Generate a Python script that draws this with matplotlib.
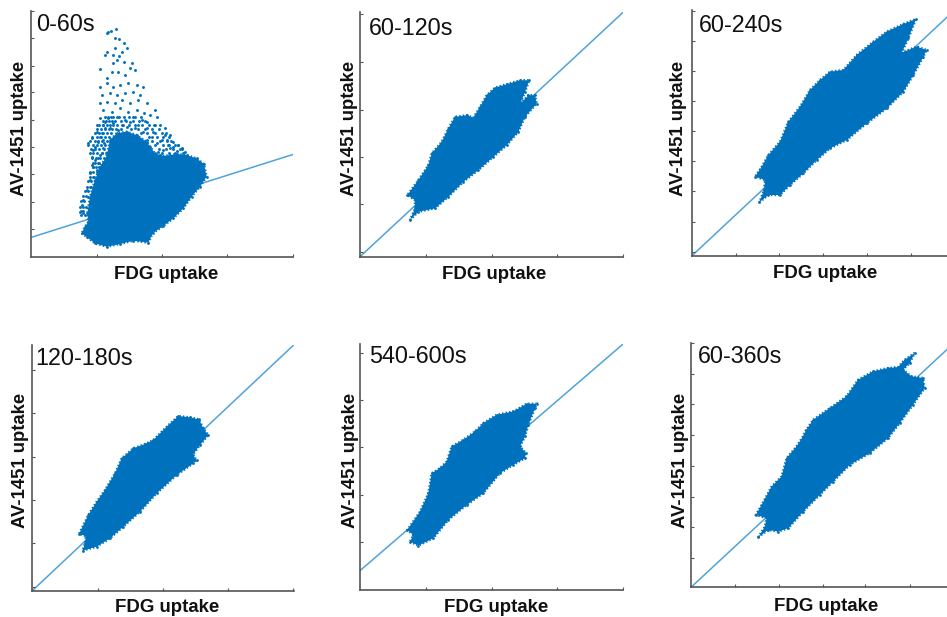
import matplotlib
matplotlib.use('Agg')
import matplotlib.pyplot as plt

plt.rcParams['font.family'] = ['Liberation Sans', 'DejaVu Sans']

BLUE = '#0072BD'
LINE_BLUE = '#4FA3DA'
AXIS_GREY = '#555555'

# axes carry no numbers, so all values are in arbitrary units
# cloud outlines, one x and one y list per frame
x_0_60 = [151, 168, 191, 226, 266, 306, 351, 364, 396, 426, 456, 481, 506, 526, 518, 496, 466, 436, 396, 371, 346, 316, 286, 256, 236, 226, 206, 191, 176, 168, 171, 161]
y_0_60 = [70, 58, 40, 30, 38, 48, 42, 70, 92, 115, 145, 180, 210, 240, 278, 295, 305, 308, 302, 310, 345, 365, 375, 370, 350, 300, 270, 230, 180, 130, 105, 90]

x_60_120 = [150, 175, 225, 265, 310, 355, 400, 440, 475, 495, 530, 525, 505, 480, 495, 508, 480, 440, 405, 380, 360, 340, 320, 285, 265, 245, 215, 205, 175, 142, 165, 165]
y_60_120 = [110, 135, 145, 180, 225, 260, 300, 335, 375, 420, 460, 485, 485, 458, 495, 530, 530, 518, 508, 485, 450, 418, 425, 420, 385, 345, 310, 275, 230, 185, 170, 145]

x_60_240 = [203, 230, 265, 295, 335, 375, 415, 465, 525, 585, 635, 665, 695, 705, 675, 630, 650, 673, 635, 585, 545, 495, 455, 415, 385, 355, 325, 290, 265, 230, 210, 190, 220, 217]
y_60_240 = [161, 183, 183, 213, 248, 288, 323, 348, 398, 443, 493, 543, 598, 618, 628, 610, 653, 711, 696, 673, 643, 603, 558, 553, 528, 498, 448, 403, 343, 303, 268, 238, 228, 198]

x_120_180 = [151, 193, 233, 273, 323, 373, 433, 483, 493, 481, 503, 528, 513, 500, 473, 438, 403, 363, 338, 303, 268, 248, 218, 193, 168, 140, 161, 158]
y_120_180 = [120, 132, 157, 192, 237, 292, 347, 382, 392, 407, 437, 467, 487, 514, 520, 524, 492, 452, 440, 427, 397, 352, 302, 267, 227, 170, 164, 142]

x_540_600 = [150, 175, 220, 265, 320, 370, 420, 460, 495, 498, 480, 495, 505, 525, 530, 500, 460, 410, 370, 345, 310, 275, 260, 240, 215, 205, 180, 142, 160]
y_540_600 = [145, 133, 155, 210, 255, 290, 350, 375, 395, 410, 430, 460, 495, 545, 558, 558, 535, 525, 500, 475, 450, 430, 385, 365, 350, 290, 235, 180, 165]

x_60_360 = [202, 232, 262, 292, 337, 387, 427, 477, 537, 592, 627, 667, 702, 697, 662, 637, 657, 672, 642, 622, 592, 547, 502, 467, 417, 367, 345, 335, 317, 287, 272, 242, 212, 195, 227, 222]
y_60_360 = [150, 172, 167, 177, 227, 277, 317, 367, 402, 447, 492, 547, 597, 627, 632, 652, 672, 702, 682, 660, 657, 647, 622, 572, 537, 502, 470, 450, 422, 387, 332, 302, 247, 217, 207, 182]

# loose points of the first frame: the spike, its left flank and its right flank
spike_x = [228, 239, 253, 231, 251, 264, 278, 286, 271, 251, 226, 221, 246, 264, 244, 258, 278, 301, 296, 311, 206, 241, 261, 281, 226, 226, 206, 246, 266, 291, 316, 336, 211, 236, 256, 281, 304, 326, 206, 226, 251, 271, 296, 321, 346, 216, 241, 266, 291, 316, 338, 356, 371, 376, 206, 231, 256, 281, 306, 331, 216, 221, 246, 271, 296, 321, 346, 236, 261, 286, 311]
spike_y = [670, 678, 682, 674, 655, 652, 642, 627, 615, 625, 615, 605, 605, 602, 580, 590, 585, 580, 565, 560, 562, 555, 555, 545, 535, 520, 508, 508, 515, 520, 515, 508, 485, 490, 485, 490, 495, 485, 460, 465, 460, 470, 460, 470, 460, 440, 435, 445, 435, 440, 430, 425, 440, 420, 415, 415, 420, 410, 418, 410, 395, 405, 400, 395, 405, 395, 405, 385, 380, 390, 385]
flank_x = [171, 181, 191, 201, 211, 196, 221, 206, 181, 191, 216, 201, 181, 166, 171, 156, 151, 146, 156, 164, 178, 188, 196, 176, 186, 206, 216, 196, 211, 186, 201, 176, 218, 208, 346, 366, 386, 401, 416, 406, 391, 376, 361, 426, 441, 451, 416, 396, 381, 356, 336, 401, 426, 371, 346, 411, 436, 461, 386]
flank_y = [340, 355, 330, 345, 370, 395, 385, 305, 300, 290, 325, 280, 275, 200, 180, 170, 155, 135, 130, 150, 210, 240, 260, 250, 320, 360, 350, 375, 310, 270, 295, 230, 340, 255, 385, 375, 395, 385, 365, 350, 350, 340, 360, 330, 335, 325, 325, 320, 315, 330, 375, 365, 345, 395, 350, 335, 318, 315, 305]

# denser shoulder points of the first frame, row by row
row_y = [420, 408, 396, 384, 372, 360, 348, 336, 324, 312, 296, 282, 268, 254, 240, 226, 210, 196, 182, 168, 150, 138, 124]
row_x = [
    [222, 230, 238, 246, 262, 278, 294, 312, 330],
    [214, 224, 232, 242, 252, 268, 284, 304, 322, 342],
    [204, 216, 226, 236, 246, 258, 276, 292, 310, 332, 352, 368],
    [198, 210, 222, 232, 242, 254, 270, 300, 320, 340, 362, 384],
    [190, 204, 214, 226, 238, 328, 346, 372, 392, 404],
    [182, 196, 208, 220, 232, 352, 378, 396, 414],
    [176, 190, 200, 212, 226, 362, 386, 408, 420],
    [170, 184, 196, 208, 222, 372, 396, 414, 430, 440],
    [178, 192, 204, 218, 384, 404, 424, 446, 452],
    [176, 186, 198, 212, 224, 392, 412, 432, 456],
    [182, 194, 206, 218],
    [184, 192, 202, 214],
    [184, 194, 204],
    [176, 186, 198],
    [176, 186],
    [170, 180],
    [168, 176],
    [160, 170],
    [154, 164],
    [148, 158],
    [146, 154],
    [148, 156],
    [150, 160],
]

# fitted lines, start and end
line_0_60 = [(0, 786), (58, 307)]
line_60_120 = [(0, 788), (0, 733)]
line_60_240 = [(0, 789), (0, 738)]
line_120_180 = [(0, 783), (0, 736)]
line_540_600 = [(0, 788), (58, 736)]
line_60_360 = [(0, 790), (0, 732)]


def panel(rect, limits, xticks, yticks, name, outline, line, text_pos, xlab_pos, ylab_pos):
    # rect is left, top, width, height in pixels of the output image
    left, top, w, h = rect
    ax = fig.add_axes([left / 947, 1 - (top + h) / 617, w / 947, h / 617])
    ax.set_xlim(0, limits[0])
    ax.set_ylim(0, limits[1])
    ax.plot(line[0], line[1], color=LINE_BLUE, lw=1.1, zorder=1)
    ax.fill(outline[0], outline[1], color=BLUE, lw=0, zorder=2)
    # rough dotted rim, the cloud is made of single points
    ax.fill(outline[0], outline[1], fill=False, ec=BLUE, lw=1.7, ls=(0, (0.6, 0.9)), zorder=2)
    ax.scatter(outline[0], outline[1], s=4, color=BLUE, lw=0, zorder=2)
    ax.spines[['top', 'right']].set_visible(False)
    ax.spines[['left', 'bottom']].set_color(AXIS_GREY)
    ax.spines[['left', 'bottom']].set_linewidth(1.2)
    ax.set_xticks(xticks)
    ax.set_yticks(yticks)
    ax.tick_params(direction='in', length=2.2, width=0.8, color=AXIS_GREY,
                   labelbottom=False, labelleft=False)
    ax.set_xlabel('FDG uptake', fontsize=13.4, fontweight='bold', color='#111111')
    ax.set_ylabel('AV-1451 uptake', fontsize=13.3, fontweight='bold', color='#111111')
    ax.xaxis.set_label_coords(xlab_pos[0], xlab_pos[1], transform=ax.transData)
    ax.yaxis.set_label_coords(ylab_pos[0], ylab_pos[1], transform=ax.transData)
    ax.text(text_pos[0], text_pos[1], name, fontsize=16.8, color='#111111', va='center', ha='left')
    return ax


fig = plt.figure(figsize=(9.47, 6.17), dpi=100)

ax1 = panel((31.3, 11, 262, 245.7), (786, 737), [197, 393, 588, 786],
            [83, 165, 247, 329, 411, 493, 573, 655, 737], '0-60s',
            (x_0_60, y_0_60), line_0_60, (14, 696), (404, -28), (-9, 384))
ax1.scatter(spike_x, spike_y, s=4.5, color=BLUE, lw=0, zorder=2)
ax1.scatter(flank_x, flank_y, s=4.5, color=BLUE, lw=0, zorder=2)
for y, xs in zip(row_y, row_x):
    ax1.scatter(xs, [y] * len(xs), s=4.5, color=BLUE, lw=0, zorder=2)

panel((360, 12, 262.7, 244.7), (788, 735), [198, 396, 591, 788],
      [15, 157, 300, 442, 584, 730], '60-120s',
      (x_60_120, y_60_120), line_60_120, (28, 684), (403, -28), (-7, 384))
panel((691.7, 10, 263, 246), (789, 738), [132, 263, 395, 525, 657, 789],
      [13, 103, 195, 284, 375, 464, 555, 644, 736], '60-240s',
      (x_60_240, y_60_240), line_60_240, (23, 691), (400, -28), (-14, 383))
panel((32.3, 345, 261.7, 245.7), (785, 737), [196, 391, 586, 783],
      [12, 142, 272, 402, 532, 662], '120-180s',
      (x_120_180, y_120_180), line_120_180, (8, 697), (403, -25), (-9, 391))
panel((360, 344, 262.7, 246), (788, 737), [198, 396, 591, 788],
      [144, 286, 427, 568, 710], '540-600s',
      (x_540_600, y_540_600), line_540_600, (26, 700), (407, -27), (-4, 387))
panel((691, 343, 263, 244.3), (790, 732), [131, 263, 395, 524, 657, 790],
      [88, 180, 272, 364, 456, 548, 640, 732], '60-360s',
      (x_60_360, y_60_360), line_60_360, (22, 692), (407, -32), (-7, 379))

fig.savefig('out.png', dpi=100)
